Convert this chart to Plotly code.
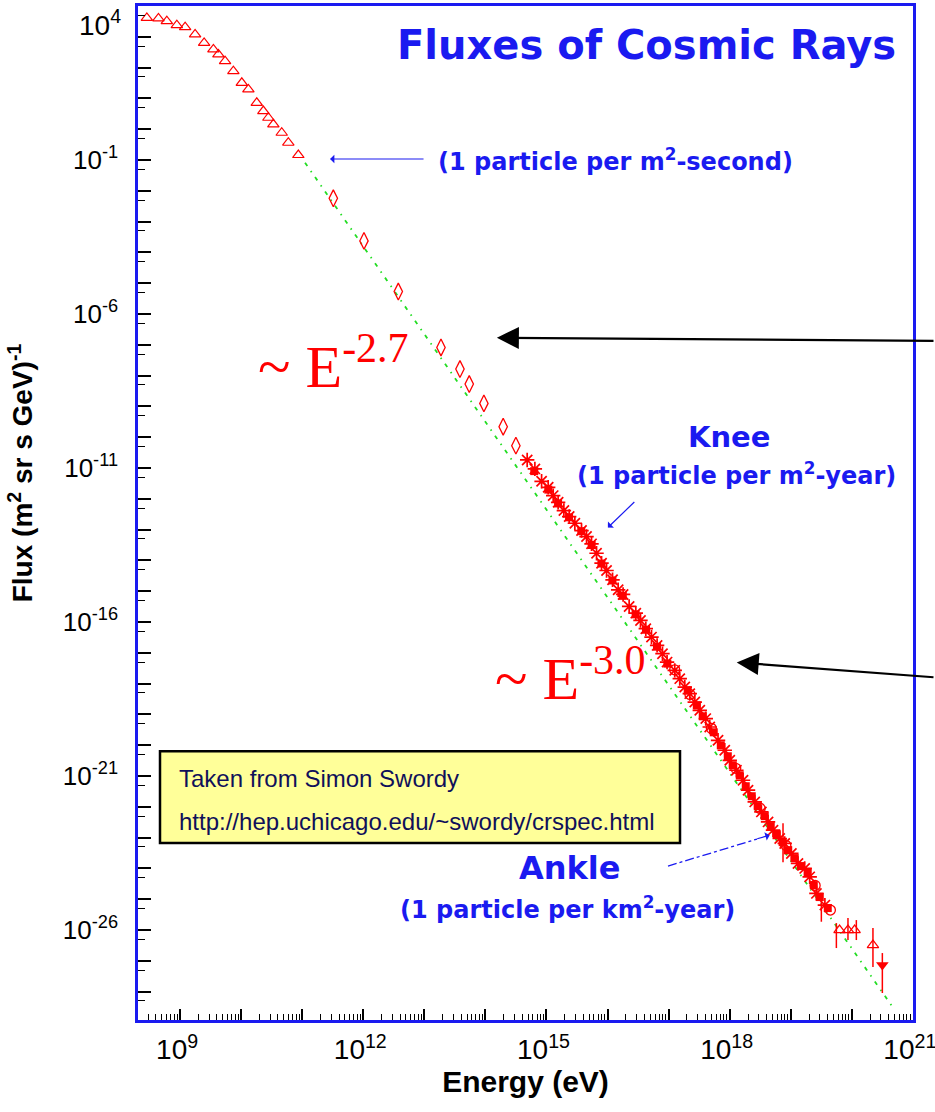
import numpy as np
import plotly.graph_objects as go

# ---------------- data (log10 E [eV], log10 flux) ----------------
tri_logE = [8.455, 8.645, 8.782, 8.946, 9.082, 9.245, 9.393, 9.545, 9.627, 9.736,
            9.872, 10.010, 10.118, 10.255, 10.363, 10.445, 10.527, 10.664, 10.772, 10.936]
tri_logF = [3.614, 3.595, 3.507, 3.377, 3.312, 3.076, 2.803, 2.590, 2.427, 2.210,
            1.886, 1.506, 1.292, 0.858, 0.589, 0.372, 0.158, -0.115, -0.439, -0.838]

dia_logE = [11.509, 12.011, 12.573, 13.272, 13.583, 13.735, 13.975, 14.291, 14.499]
dia_logF = [-2.242, -3.626, -5.270, -7.086, -7.787, -8.273, -8.902, -9.658, -10.274]

ast_logE = [14.684, 14.810, 14.920, 15.028, 15.110, 15.191, 15.285, 15.372, 15.465, 15.574,
            15.656, 15.738, 15.820, 15.902, 15.984, 16.082, 16.174, 16.255, 16.354, 16.463,
            16.540, 16.627, 16.720, 16.812, 16.900, 16.975, 17.101, 17.183, 17.265, 17.347,
            17.429, 17.511, 17.609, 17.674, 17.810, 17.920, 18.002, 18.111, 18.219, 18.301,
            18.411, 18.520, 18.629, 18.710, 18.820, 18.902, 19.011, 19.119, 19.229, 19.311,
            19.421, 19.560]
ast_logF = [-10.737, -11.029, -11.431, -11.626, -11.895, -12.112, -12.381, -12.576, -12.793, -13.030,
            -13.224, -13.461, -13.766, -14.090, -14.327, -14.629, -14.953, -15.105, -15.494, -15.711,
            -15.948, -16.217, -16.489, -16.759, -17.028, -17.300, -17.569, -17.838, -18.111, -18.325,
            -18.597, -18.866, -19.135, -19.408, -19.839, -20.163, -20.488, -20.812, -21.136, -21.460,
            -21.840, -22.164, -22.488, -22.757, -23.027, -23.189, -23.513, -23.837, -23.999, -24.272,
            -24.810, -25.190]

sq_logE = [14.80, 15.03, 15.19, 15.37, 15.57, 15.74, 15.90, 16.08, 16.25, 16.46,
           16.63, 16.81, 16.98, 17.314, 17.462, 17.560, 17.740, 17.855, 17.970, 18.051,
           18.166, 18.264, 18.362, 18.460, 18.575, 18.673, 18.771, 18.869, 18.951, 19.066,
           19.165, 19.279, 19.378, 19.476, 19.607]
sq_logF = [-11.10, -11.70, -12.15, -12.60, -13.05, -13.50, -14.10, -14.65, -15.15, -15.75,
           -16.25, -16.80, -17.35, -18.218, -18.704, -19.061, -19.580, -20.001, -20.358, -20.650,
           -20.974, -21.331, -21.655, -21.979, -22.303, -22.627, -22.887, -23.146, -23.405, -23.664,
           -23.924, -24.119, -24.540, -24.929, -25.286]

circ_logE = [17.10, 17.35, 17.70, 18.10, 18.50, 18.92, 19.40, 19.65]
circ_logF = [-17.55, -18.35, -19.45, -20.75, -22.05, -23.25, -24.55, -25.35]

hi_tri_logE = [19.800, 19.938, 20.047, 20.347]
hi_tri_logF = [-26.000, -26.000, -26.000, -26.486]

down_logE = [20.501]
down_logF = [-27.135]

eb_logE = [18.874, 19.502, 19.748, 19.938, 20.075, 20.347, 20.501]
eb_lo = [-23.795, -25.730, -26.584, -26.324, -26.324, -27.200, -28.043]
eb_hi = [-22.530, -25.034, -25.774, -25.611, -25.676, -25.935, -26.746]

fit_logE = [11.046, 20.702]
fit_logF = [-1.088, -28.594]

x_tick_exp = list(range(9, 22))
x_label_exp = [9, 12, 15, 18, 21]
y_tick_exp = list(range(-28, 5))
y_label_exp = [-1, -6, -11, -16, -21, -26]

# ---------------- figure ----------------
W, H = 935, 1112
L, R, T, B = 138, 913, 5.5, 1020
BLUE = "#1a1af0"
RED = "#ff0000"
SANS = "Liberation Sans, Arial, sans-serif"
WIDE = "DejaVu Sans, Verdana, sans-serif"
SERIF = "Liberation Serif, Times New Roman, serif"


def px(x):
    return (x - L) / (R - L)


def py(y):
    return (B - y) / (B - T)


def p10(a):
    return [10.0 ** v for v in a]


fig = go.Figure()

fig.add_trace(go.Scatter(x=p10(fit_logE), y=p10(fit_logF), mode="lines",
                         line=dict(color="#22dd22", width=1.8, dash="4px,6px,1.5px,6px"),
                         hoverinfo="skip", showlegend=False))

ebx, eby = [], []
for e, lo, hi in zip(eb_logE, eb_lo, eb_hi):
    ebx += [10.0 ** e, 10.0 ** e, None]
    eby += [10.0 ** lo, 10.0 ** hi, None]
fig.add_trace(go.Scatter(x=ebx, y=eby, mode="lines", line=dict(color=RED, width=1.5),
                         showlegend=False, hoverinfo="skip"))

fig.add_trace(go.Scatter(x=p10(tri_logE), y=p10(tri_logF), mode="markers",
                         marker=dict(symbol="triangle-up-open", size=10, color=RED,
                                     line=dict(color=RED, width=1.2)), showlegend=False))
fig.add_trace(go.Scatter(x=p10(dia_logE), y=p10(dia_logF), mode="markers",
                         marker=dict(symbol="diamond-tall-open", size=12, color=RED,
                                     line=dict(color=RED, width=1.3)), showlegend=False))
fig.add_trace(go.Scatter(x=p10(circ_logE), y=p10(circ_logF), mode="markers",
                         marker=dict(symbol="circle-open", size=10, color=RED,
                                     line=dict(color=RED, width=1.3)), showlegend=False))
fig.add_trace(go.Scatter(x=p10(ast_logE), y=p10(ast_logF), mode="markers",
                         marker=dict(symbol="asterisk-open", size=12, color=RED,
                                     line=dict(color=RED, width=1.7)), showlegend=False))
fig.add_trace(go.Scatter(x=p10(sq_logE), y=p10(sq_logF), mode="markers",
                         marker=dict(symbol="square", size=8, color=RED,
                                     line=dict(width=0)), showlegend=False))
fig.add_trace(go.Scatter(x=p10(hi_tri_logE), y=p10(hi_tri_logF), mode="markers",
                         marker=dict(symbol="triangle-up-open", size=10, color=RED,
                                     line=dict(color=RED, width=1.2)), showlegend=False))
fig.add_trace(go.Scatter(x=p10(down_logE), y=p10(down_logF), mode="markers",
                         marker=dict(symbol="triangle-down", size=11, color=RED), showlegend=False))

tickfont = dict(family=SANS, size=26, color="black")
xtickfont = dict(family=SANS, size=28, color="black")

fig.update_xaxes(type="log", range=[8.31, 21.003], automargin=False,
                 tickvals=[10.0 ** k for k in x_tick_exp],
                 ticktext=[f"10<sup>{k}</sup>" if k in x_label_exp else "" for k in x_tick_exp],
                 ticks="inside", ticklen=11, tickwidth=1.5, tickcolor="black",
                 minor=dict(tickvals=[m * 10.0 ** k for k in range(8, 21) for m in range(2, 10)],
                            ticks="inside", ticklen=6, tickwidth=1, tickcolor="black"),
                 showline=True, linecolor=BLUE, linewidth=2.5, mirror=True,
                 showgrid=False, zeroline=False, tickfont=xtickfont,
                 ticklabeloverflow="allow", ticklabelshift=-3, ticklabelstandoff=3,
                 title=dict(text="<b>Energy (eV)</b>", standoff=7,
                            font=dict(family=SANS, size=30, color="black")))

fig.update_yaxes(type="log", range=[-28.92, 4.0], automargin=False,
                 tickvals=[10.0 ** k for k in y_tick_exp],
                 ticktext=[f"10<sup>{k}</sup>" if k in y_label_exp else "" for k in y_tick_exp],
                 ticks="inside", ticklen=13, tickwidth=1.5, tickcolor="black",
                 minor=dict(tickvals=[5 * 10.0 ** k for k in range(-29, 4)],
                            ticks="inside", ticklen=7, tickwidth=1, tickcolor="black"),
                 showline=True, linecolor=BLUE, linewidth=2.5, mirror=True,
                 showgrid=False, zeroline=False, tickfont=tickfont, ticklabelstandoff=12,
                 ticklabeloverflow="allow")

ann = []
# 10^4 label (top tick label, shifted down into view)
ann.append(dict(x=px(123), y=py(23), xref="paper", yref="paper", xanchor="right", yanchor="middle",
                text="10<sup>4</sup>", showarrow=False, font=dict(family=SANS, size=28, color="black")))
# y axis title
ann.append(dict(x=px(21), y=py(473), xref="paper", yref="paper", xanchor="center", yanchor="middle",
                text="<b>Flux (m<sup>2</sup> sr s GeV)<sup>-1</sup></b>", textangle=-90, showarrow=False,
                font=dict(family=SANS, size=28, color="black")))
# title
ann.append(dict(x=px(646), y=py(45), xref="paper", yref="paper", xanchor="center", yanchor="middle",
                text="<b>Fluxes of Cosmic Rays</b>", showarrow=False,
                font=dict(family=WIDE, size=40, color=BLUE)))
ann.append(dict(x=px(615), y=py(160), xref="paper", yref="paper", xanchor="center", yanchor="middle",
                text="<b>(1 particle per m<sup>2</sup>-second)</b>", showarrow=False,
                font=dict(family=WIDE, size=24, color=BLUE)))
ann.append(dict(x=px(729), y=py(437), xref="paper", yref="paper", xanchor="center", yanchor="middle",
                text="<b>Knee</b>", showarrow=False,
                font=dict(family=WIDE, size=29, color=BLUE)))
ann.append(dict(x=px(736), y=py(474), xref="paper", yref="paper", xanchor="center", yanchor="middle",
                text="<b>(1 particle per m<sup>2</sup>-year)</b>", showarrow=False,
                font=dict(family=WIDE, size=24, color=BLUE)))
ann.append(dict(x=px(570), y=py(868), xref="paper", yref="paper", xanchor="center", yanchor="middle",
                text="<b>Ankle</b>", showarrow=False,
                font=dict(family=WIDE, size=32, color=BLUE)))
ann.append(dict(x=px(567), y=py(908), xref="paper", yref="paper", xanchor="center", yanchor="middle",
                text="<b>(1 particle per km<sup>2</sup>-year)</b>", showarrow=False,
                font=dict(family=WIDE, size=24, color=BLUE)))
# power-law labels
ann.append(dict(x=px(333), y=py(362), xref="paper", yref="paper", xanchor="center", yanchor="middle",
                text="~ E<sup>-2.7</sup>", showarrow=False,
                font=dict(family=SERIF, size=60, color=RED)))
ann.append(dict(x=px(570), y=py(674), xref="paper", yref="paper", xanchor="center", yanchor="middle",
                text="~ E<sup>-3.0</sup>", showarrow=False,
                font=dict(family=SERIF, size=60, color=RED)))
# credit box text
ann.append(dict(x=px(177), y=py(778), xref="paper", yref="paper", xanchor="left", yanchor="middle",
                text="Taken from Simon Swordy", showarrow=False,
                font=dict(family=SANS, size=24, color="#10105a")))
ann.append(dict(x=px(177), y=py(821), xref="paper", yref="paper", xanchor="left", yanchor="middle",
                text="http://hep.uchicago.edu/~swordy/crspec.html", showarrow=False,
                font=dict(family=SANS, size=24, color="#10105a")))

# arrows (head positions in data coords, tails in pixel offsets)
ann.append(dict(x=11.455, y=-0.968, xref="x", yref="y", ax=95, ay=0, text="", showarrow=True,
                arrowhead=1, arrowsize=1.2, arrowwidth=1.2, arrowcolor=BLUE))
ann.append(dict(x=14.188, y=-6.772, xref="x", yref="y", ax=445, ay=3, text="", showarrow=True,
                arrowhead=2, arrowsize=2.0, arrowwidth=2.2, arrowcolor="black"))
ann.append(dict(x=18.116, y=-17.310, xref="x", yref="y", ax=205, ay=15, text="", showarrow=True,
                arrowhead=2, arrowsize=2.0, arrowwidth=2.2, arrowcolor="black"))
ann.append(dict(x=16.005, y=-12.933, xref="x", yref="y", ax=28, ay=-27, text="", showarrow=True,
                arrowhead=1, arrowsize=1.2, arrowwidth=1.2, arrowcolor=BLUE))
ann.append(dict(x=18.656, y=-22.920, xref="x", yref="y", ax=-14, ay=4, text="", showarrow=True,
                arrowhead=1, arrowsize=1.2, arrowwidth=1.2, arrowcolor=BLUE))

shapes = [
    dict(type="rect", xref="paper", yref="paper", x0=px(160), x1=px(680), y0=py(843), y1=py(751),
         fillcolor="#ffff99", line=dict(color="black", width=2.5), layer="below"),
    dict(type="line", xref="paper", yref="paper", x0=px(668), y0=py(866), x1=px(757), y1=py(839),
         line=dict(color=BLUE, width=1.3, dash="dashdot")),
]

fig.update_layout(width=W, height=H, autosize=False,
                  margin=dict(l=L, r=W - R, t=T, b=H - B),
                  paper_bgcolor="white", plot_bgcolor="white",
                  annotations=ann, shapes=shapes, showlegend=False)

fig.write_html("out.html", config={"displayModeBar": False},
               post_script="document.body.style.margin='0';")
